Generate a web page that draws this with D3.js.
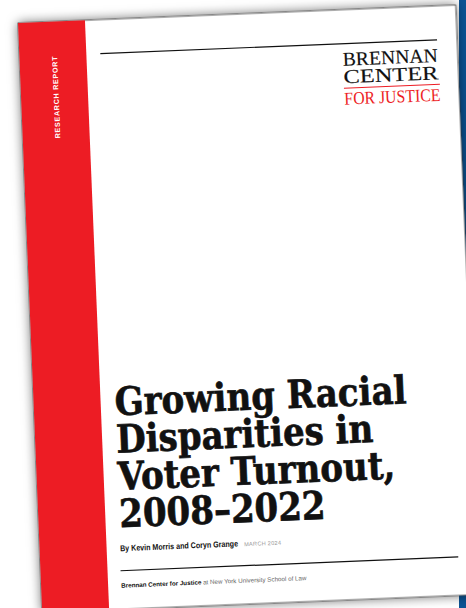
<!DOCTYPE html>
<html lang="en">
<head>
<meta charset="utf-8">
<title>Growing Racial Disparities in Voter Turnout - cover</title>
<script src="https://cdn.jsdelivr.net/npm/d3@7"></script>
<style>
  body { margin: 0; background: #fff; }
  svg { display: block; }
</style>
</head>
<body>
<script>
// text content of the cover
var sideLabel = "RESEARCH REPORT";
var logoLines = ["BRENNAN", "CENTER"];
var logoTag = "FOR JUSTICE";
var titleLines = ["Growing Racial", "Disparities in", "Voter Turnout,", "2008–2022"];
var authors = "By Kevin Morris and Coryn Grange";
var dateLabel = "MARCH 2024";
var footerParts = ["Brennan Center for Justice", " at New York University School of Law"];

var W = 466, H = 608;
var pageW = 438, pageH = 590, stripW = 67;
var red = "#ed1c24", ink = "#111";
var serif = "'Liberation Serif', 'Times New Roman', serif";
var sans = "'Liberation Sans', Arial, sans-serif";

var svg = d3.select("body").append("svg")
    .attr("width", W)
    .attr("height", H);

var filter = svg.append("defs").append("filter")
    .attr("id", "shadow")
    .attr("filterUnits", "userSpaceOnUse")
    .attr("x", -40).attr("y", -40)
    .attr("width", pageW + 80).attr("height", pageH + 80);
filter.append("feDropShadow")
    .attr("dx", 0).attr("dy", 0)
    .attr("stdDeviation", 5.5)
    .attr("flood-color", "#000")
    .attr("flood-opacity", 0.55);

// blue cover peeking out behind on the right
svg.append("rect")
    .attr("x", 459).attr("y", 0)
    .attr("width", W - 459).attr("height", H)
    .attr("fill", "#0b5394");

// the page, slightly tilted
var page = svg.append("g")
    .attr("transform", "translate(18,23) rotate(-2.35)");

page.append("rect")
    .attr("width", pageW).attr("height", pageH)
    .attr("fill", "#fff")
    .attr("stroke", "#333")
    .attr("stroke-width", 0.8)
    .attr("filter", "url(#shadow)");

page.append("rect")
    .attr("width", stripW).attr("height", pageH)
    .attr("fill", red);

page.append("text")
    .attr("transform", "translate(37.6,117) rotate(-90)")
    .attr("font-family", sans)
    .attr("font-weight", "bold")
    .attr("font-size", 7.2)
    .attr("textLength", 82)
    .attr("lengthAdjust", "spacing")
    .attr("fill", "#fff")
    .text(sideLabel);

// top rule
page.append("line")
    .attr("x1", 81).attr("x2", 418)
    .attr("y1", 34).attr("y2", 34)
    .attr("stroke", ink)
    .attr("stroke-width", 1.2);

// logo
var logoY = d3.scaleLinear().domain([0, logoLines.length - 1]).range([56, 73.5]);
page.selectAll("text.logo")
    .data(logoLines)
    .join("text")
    .attr("class", "logo")
    .attr("x", 323)
    .attr("y", function(d, i) { return logoY(i); })
    .attr("font-family", serif)
    .attr("font-size", 19.5)
    .attr("textLength", 95)
    .attr("lengthAdjust", "spacingAndGlyphs")
    .attr("fill", ink)
    .attr("stroke", ink)
    .attr("stroke-width", 0.15)
    .text(function(d) { return d; });

page.append("line")
    .attr("x1", 323).attr("x2", 419)
    .attr("y1", 78.5).attr("y2", 78.5)
    .attr("stroke", red)
    .attr("stroke-width", 1);

page.append("text")
    .attr("x", 323).attr("y", 95)
    .attr("font-family", serif)
    .attr("font-size", 18)
    .attr("textLength", 96)
    .attr("lengthAdjust", "spacingAndGlyphs")
    .attr("fill", red)
    .text(logoTag);

// title: heavy serif, stretched a little upward to match the tall face
var titleY = d3.scaleLinear().domain([0, titleLines.length - 1]).range([396, 508]);
var title = page.selectAll("text.title")
    .data(titleLines)
    .join("text")
    .attr("class", "title")
    .attr("transform", function(d, i) { return "translate(81," + titleY(i) + ") scale(1,1.14)"; })
    .attr("font-family", "'DejaVu Serif', serif")
    .attr("font-weight", "bold")
    .attr("font-size", 36)
    .attr("fill", ink)
    .attr("stroke", ink)
    .attr("stroke-width", 0.6)
    .text(function(d) { return d; });

// fit the first line to the printed width, the others follow
var w0 = title.node().getComputedTextLength();
title.attr("font-size", 36 * 292 / w0);

// byline
page.append("text")
    .attr("x", 80.5).attr("y", 532)
    .attr("font-family", sans)
    .attr("font-weight", "bold")
    .attr("font-size", 8.4)
    .attr("textLength", 118)
    .attr("lengthAdjust", "spacingAndGlyphs")
    .attr("fill", ink)
    .text(authors);

page.append("text")
    .attr("x", 204.5).attr("y", 532)
    .attr("font-family", sans)
    .attr("font-size", 5.6)
    .attr("textLength", 37)
    .attr("lengthAdjust", "spacing")
    .attr("fill", "#999")
    .text(dateLabel);

page.append("line")
    .attr("x1", 80).attr("x2", 418)
    .attr("y1", 551.5).attr("y2", 551.5)
    .attr("stroke", ink)
    .attr("stroke-width", 1.2);

// footer
var footer = page.append("text")
    .attr("x", 80).attr("y", 568.5)
    .attr("font-family", sans)
    .attr("font-size", 7);
footer.selectAll("tspan")
    .data(footerParts)
    .join("tspan")
    .attr("font-weight", function(d, i) { return i === 0 ? "bold" : "normal"; })
    .attr("fill", function(d, i) { return i === 0 ? ink : "#666"; })
    .text(function(d) { return d; });
var fw = footer.node().getComputedTextLength();
footer.attr("font-size", 7 * 186 / fw);
</script>
</body>
</html>
